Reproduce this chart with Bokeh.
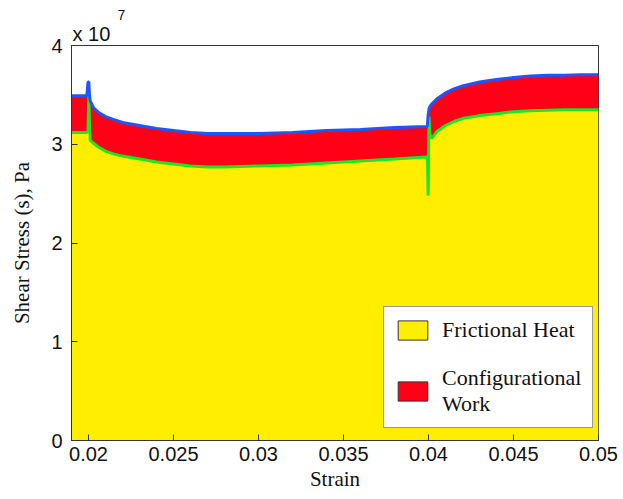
from bokeh.plotting import figure
from bokeh.models import Range1d, FixedTicker, Legend, LegendItem, Title, ColumnDataSource
from bokeh.embed import file_html
from bokeh.resources import INLINE

# Strain samples shared by both curves
strain = [0.0190, 0.0199, 0.01997, 0.02002, 0.02006, 0.02010, 0.0203, 0.0206,
          0.0210, 0.0215, 0.0220, 0.0230, 0.0240, 0.0250, 0.0260, 0.0270,
          0.0280, 0.0300, 0.0320, 0.0340, 0.0360, 0.0380, 0.0399, 0.03993,
          0.03998, 0.04003, 0.04008, 0.0402, 0.0405, 0.0410, 0.0415, 0.0420,
          0.0430, 0.0440, 0.0450, 0.0460, 0.0470, 0.0480, 0.0490, 0.0500]

# Total shear stress (upper boundary), units of 1e7 Pa
total_stress = [3.49, 3.49, 3.63, 3.63, 3.50, 3.44, 3.37, 3.32,
                3.28, 3.25, 3.22, 3.19, 3.16, 3.14, 3.12, 3.11,
                3.11, 3.11, 3.12, 3.14, 3.15, 3.17, 3.18, 3.18,
                3.30, 3.36, 3.38, 3.41, 3.46, 3.52, 3.56, 3.59,
                3.63, 3.655, 3.675, 3.69, 3.70, 3.70, 3.705, 3.705]

# Frictional heat part (lower boundary), units of 1e7 Pa
frictional_stress = [3.12, 3.12, 3.13, 3.49, 3.20, 3.04, 3.01, 2.97,
                     2.93, 2.90, 2.88, 2.85, 2.82, 2.80, 2.78, 2.77,
                     2.77, 2.78, 2.79, 2.81, 2.83, 2.85, 2.87, 2.87,
                     2.48, 3.28, 3.10, 3.06, 3.13, 3.19, 3.23, 3.26,
                     3.29, 3.31, 3.33, 3.34, 3.345, 3.35, 3.35, 3.35]

x_ticks = [0.02, 0.025, 0.03, 0.035, 0.04, 0.045, 0.05]
x_tick_labels = ["0.02", "0.025", "0.03", "0.035", "0.04", "0.045", "0.05"]
y_ticks = [0, 1, 2, 3, 4]

YELLOW = "#FFEE00"
RED = "#FF0016"
GREEN = "#1EE61E"
BLUE = "#1F55FF"
DARK = "#333333"
TEXT = "#111111"

p = figure(width=623, height=499, output_backend="svg", toolbar_location=None,
           x_range=Range1d(0.019, 0.05), y_range=Range1d(0, 4),
           min_border_left=71, min_border_right=25, min_border_top=45, min_border_bottom=59)

src = ColumnDataSource(dict(x=strain, top=total_stress, fr=frictional_stress,
                            zero=[0.0] * len(strain)))

p.varea(x="x", y1="zero", y2="fr", source=src, fill_color=YELLOW)
p.varea(x="x", y1="fr", y2="top", source=src, fill_color=RED)
p.line(x="x", y="fr", source=src, line_color=GREEN, line_width=3)
p.line(x="x", y="top", source=src, line_color=BLUE, line_width=3)

# Outlined swatches for the legend (kept off the visible x range)
sw_src = ColumnDataSource(dict(l=[0.0], r=[0.001], b=[0.0], t=[1.0]))
sw_heat = p.quad(left="l", right="r", bottom="b", top="t", source=sw_src,
                 fill_color=YELLOW, line_color=DARK, line_width=1)
sw_work = p.quad(left="l", right="r", bottom="b", top="t", source=sw_src,
                 fill_color=RED, line_color=DARK, line_width=1)

legend = Legend(items=[LegendItem(label="Frictional Heat", renderers=[sw_heat]),
                       LegendItem(label="Configurational\nWork", renderers=[sw_work])],
                location=(312, 12), padding=10, spacing=22,
                glyph_width=37, glyph_height=24, label_width=140, label_standoff=11,
                label_text_font="Liberation Serif", label_text_font_size="22px",
                label_text_color=TEXT,
                border_line_color=DARK, border_line_width=1,
                background_fill_color="white", background_fill_alpha=1.0)
p.add_layout(legend)

p.grid.visible = False
p.outline_line_color = DARK
p.outline_line_width = 1
p.background_fill_color = "white"

for ax in (p.xaxis[0], p.yaxis[0]):
    ax.axis_line_color = DARK
    ax.major_tick_line_color = DARK
    ax.major_tick_in = 6
    ax.major_tick_out = 0
    ax.minor_tick_line_color = None
    ax.major_label_text_font = "Liberation Sans"
    ax.major_label_text_font_size = "20px"
    ax.major_label_text_color = TEXT
    ax.axis_label_text_font = "Liberation Serif"
    ax.axis_label_text_font_size = "21px"
    ax.axis_label_text_font_style = "normal"
    ax.axis_label_text_color = TEXT

p.xaxis.ticker = FixedTicker(ticks=x_ticks)
p.xaxis.major_label_overrides = dict(zip(x_ticks, x_tick_labels))
p.xaxis.axis_label = "Strain"
p.xaxis.major_label_standoff = 6
p.xaxis.axis_label_standoff = 3

p.yaxis.ticker = FixedTicker(ticks=y_ticks)
p.yaxis.axis_label = "Shear Stress (s), Pa"
p.yaxis.major_label_standoff = 9
p.yaxis.axis_label_standoff = 14

# Axis multiplier "x 10^7": exponent as the outer title, base just above the frame
p.title.text = "7"
p.title.align = "left"
p.title.offset = 46
p.title.standoff = 0
p.title.text_font = "Liberation Sans"
p.title.text_font_size = "14px"
p.title.text_font_style = "normal"
p.title.text_color = TEXT
p.add_layout(Title(text="x 10", align="left", offset=1, standoff=2,
                   text_font="Liberation Sans", text_font_size="20px",
                   text_font_style="normal", text_color=TEXT), "above")

open("out.html", "w").write(file_html(p, INLINE))
